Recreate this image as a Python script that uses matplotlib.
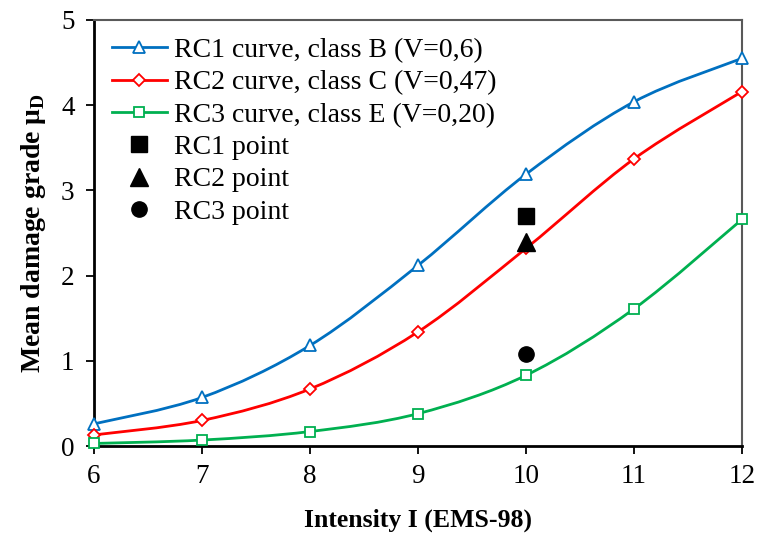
import numpy as np
import matplotlib
matplotlib.use("Agg")
import matplotlib.pyplot as plt
from matplotlib.path import Path
from matplotlib.patches import PathPatch
from matplotlib.lines import Line2D

# =============================
# DATA
# =============================

intensity = [6, 7, 8, 9, 10, 11, 12]

rc1_curve = [0.26, 0.57, 1.18, 2.12, 3.19, 4.04, 4.55]
rc2_curve = [0.13, 0.30, 0.67, 1.34, 2.32, 3.37, 4.16]
rc3_curve = [0.03, 0.07, 0.17, 0.38, 0.83, 1.61, 2.66]

point_intensity = 10
rc1_point = 2.70
rc2_point = 2.39
rc3_point = 1.08

labels = ["RC1 curve, class B (V=0,6)",
          "RC2 curve, class C (V=0,47)",
          "RC3 curve, class E (V=0,20)",
          "RC1 point", "RC2 point", "RC3 point"]

# =============================
# STYLE
# =============================

plt.rcParams["font.family"] = ["Liberation Serif", "DejaVu Serif"]
plt.rcParams["mathtext.fontset"] = "custom"
plt.rcParams["mathtext.rm"] = "Liberation Serif"
plt.rcParams["mathtext.bf"] = "Liberation Serif:bold"

BLUE = "#0070C0"
RED = "#FF0000"
GREEN = "#00B050"


def smooth_path(xs, ys, tension=1 / 6):
    # Catmull-Rom style bezier through the points (like Excel smoothed lines)
    xs = np.asarray(xs, float)
    ys = np.asarray(ys, float)
    pts = np.column_stack([xs, ys])
    n = len(pts)
    verts = [pts[0]]
    codes = [Path.MOVETO]
    for i in range(n - 1):
        p0 = pts[i - 1] if i > 0 else pts[i]
        p1 = pts[i]
        p2 = pts[i + 1]
        p3 = pts[i + 2] if i + 2 < n else pts[i + 1]
        c1 = p1 + (p2 - p0) * tension
        c2 = p2 - (p3 - p1) * tension
        verts += [c1, c2, p2]
        codes += [Path.CURVE4] * 3
    return Path(verts, codes)


fig = plt.figure(figsize=(7.57, 5.33), dpi=100)
ax = fig.add_axes([0.1242, 0.1632, 0.8560, 0.7993])

series = [
    (rc1_curve, BLUE, "^", 8),
    (rc2_curve, RED, "D", 6.5),
    (rc3_curve, GREEN, "s", 7.5),
]

handles = []
for vals, col, mk, ms in series:
    ax.add_patch(PathPatch(smooth_path(intensity, vals), facecolor="none",
                           edgecolor=col, lw=2, zorder=2))
    ax.plot(intensity, vals, ls="none", marker=mk, ms=ms, mfc="white",
            mec=col, mew=1.3, zorder=3, clip_on=False)
    handles.append(Line2D([], [], color=col, lw=2, marker=mk, ms=ms,
                          mfc="white", mec=col, mew=1.3))

ax.plot(point_intensity, rc1_point, "s", color="black", ms=12, zorder=4)
ax.plot(point_intensity, rc2_point, "^", color="black", ms=13, zorder=4)
ax.plot(point_intensity, rc3_point, "o", color="black", ms=11, zorder=4)
handles.append(Line2D([], [], ls="none", marker="s", color="black", ms=12))
handles.append(Line2D([], [], ls="none", marker="^", color="black", ms=13))
handles.append(Line2D([], [], ls="none", marker="o", color="black", ms=11))

ax.set_xlim(6, 12)
ax.set_ylim(0, 5)
ax.set_xticks(range(6, 13))
ax.set_yticks(range(0, 6))
ax.tick_params(axis="both", direction="out", length=6, width=1.3,
               labelsize=19.5)
ax.tick_params(axis="x", pad=7)
ax.tick_params(axis="y", pad=8)

for side in ["left", "bottom"]:
    ax.spines[side].set_linewidth(2)
for side in ["top", "right"]:
    ax.spines[side].set_linewidth(1.5)
    ax.spines[side].set_color("#595959")

ax.set_xlabel("Intensity I (EMS-98)", fontsize=18.5, fontweight="bold",
              labelpad=14)
ax.set_ylabel(r"Mean damage grade μ$_\mathbf{D}$", fontsize=20,
              fontweight="bold", labelpad=9)

ax.legend(handles, labels, loc="upper left", frameon=False, fontsize=20,
          handlelength=2.0, handletextpad=0.25, labelspacing=0.25,
          borderaxespad=0.0, bbox_to_anchor=(0.01, 0.985))

fig.savefig("out.png", dpi=100)
